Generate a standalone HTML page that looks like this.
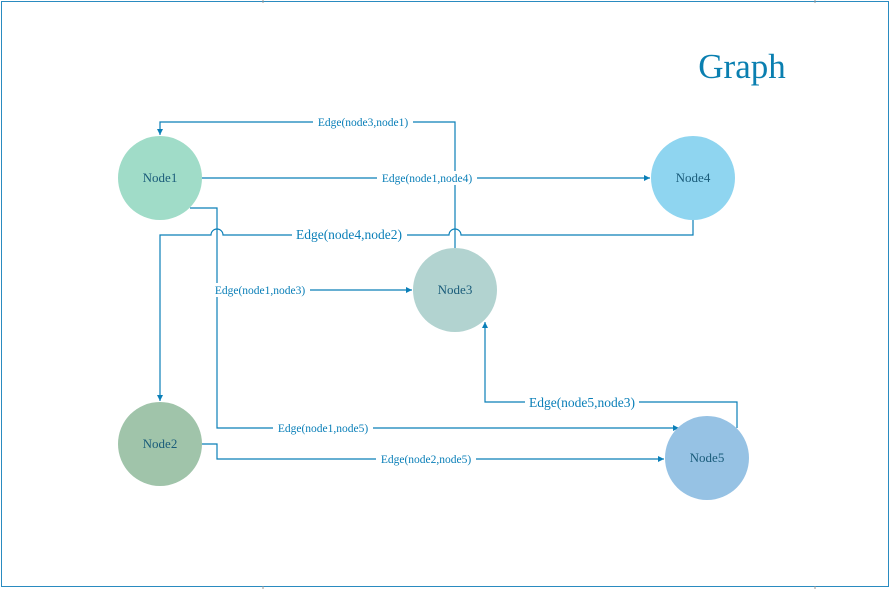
<!DOCTYPE html>
<html><head><style>body{margin:0;background:#fff}svg{display:block}</style></head><body>
<svg width="892" height="589" viewBox="0 0 892 589" xmlns="http://www.w3.org/2000/svg" font-family="Liberation Serif, serif">
<defs><marker id="a" markerWidth="8" markerHeight="8" refX="6" refY="3" orient="auto" markerUnits="userSpaceOnUse"><path d="M0,0 L6,3 L0,6 Z" fill="#0a7fb8"/></marker></defs>
<rect x="1.5" y="1.5" width="887" height="585" fill="#fff" stroke="#2a8bc0" stroke-width="1"/>
<line x1="263" y1="0" x2="263" y2="3" stroke="#999"/><line x1="815" y1="0" x2="815" y2="3" stroke="#999"/>
<line x1="263" y1="586" x2="263" y2="589" stroke="#999"/><line x1="815" y1="586" x2="815" y2="589" stroke="#999"/>
<text x="742" y="78" font-size="35" fill="#0a7fb0" text-anchor="middle">Graph</text>
<g fill="none" stroke="#0a7fb8" stroke-width="1.2">
<path d="M455,248 V122 H160 V135" marker-end="url(#a)"/>
<path d="M202,178 H650" marker-end="url(#a)"/>
<path d="M693,220 V235 H461 A6,6 0 0 0 449,235 H223 A6,6 0 0 0 211,235 H160 V401" marker-end="url(#a)"/>
<path d="M190,208 H217 V428 H679" marker-end="url(#a)"/>
<path d="M217,290 H412" marker-end="url(#a)"/>
<path d="M202,444 H217 V459 H664" marker-end="url(#a)"/>
<path d="M737,428 V402 H485 V322" marker-end="url(#a)"/>
</g>
<circle cx="160" cy="178" r="42" fill="#a0dcc8"/>
<circle cx="693" cy="178" r="42" fill="#8fd5f0"/>
<circle cx="455" cy="290" r="42" fill="#b2d3d0"/>
<ellipse cx="160" cy="444" rx="42" ry="42" fill="#a0c4aa"/>
<circle cx="707" cy="458" r="42" fill="#96c2e4"/>
<g font-size="13" fill="#1a5c7a" text-anchor="middle">
<text x="160" y="182">Node1</text><text x="693" y="182">Node4</text><text x="455" y="294">Node3</text>
<text x="160" y="448">Node2</text><text x="707" y="462">Node5</text>
</g>
<g font-size="11.5" fill="#0a7fb8" text-anchor="middle">
<rect x="313" y="115" width="100" height="14" fill="#fff"/><text x="363" y="126">Edge(node3,node1)</text>
<rect x="377" y="171" width="100" height="14" fill="#fff"/><text x="427" y="182">Edge(node1,node4)</text>
<rect x="210" y="283" width="100" height="14" fill="#fff"/><text x="260" y="294">Edge(node1,node3)</text>
<rect x="273" y="421" width="100" height="14" fill="#fff"/><text x="323" y="432">Edge(node1,node5)</text>
<rect x="376" y="452" width="100" height="14" fill="#fff"/><text x="426" y="463">Edge(node2,node5)</text>
</g>
<g font-size="13.5" fill="#0a7fb8" text-anchor="middle">
<rect x="292" y="226" width="115" height="16" fill="#fff"/><text x="349" y="239">Edge(node4,node2)</text>
<rect x="525" y="394" width="114" height="16" fill="#fff"/><text x="582" y="407">Edge(node5,node3)</text>
</g>
</svg>
</body></html>
